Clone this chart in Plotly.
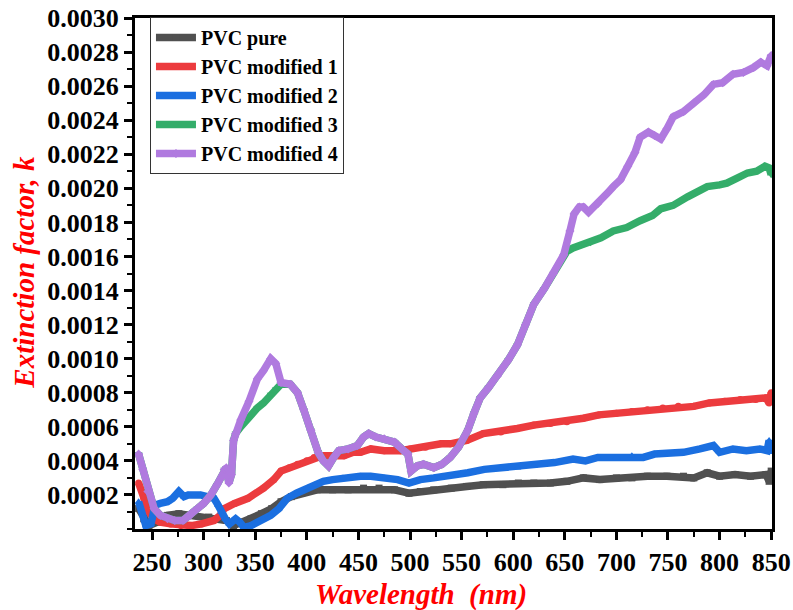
import plotly.graph_objects as go

# ---- data: extinction factor k versus wavelength (nm) ----
pure_wl = [237, 242, 247, 255, 265, 276, 290, 305, 314, 322,
           329, 338, 346, 356, 366, 375, 385, 395, 410, 425,
           440, 455, 470, 485, 499, 510, 523, 540, 555, 571,
           590, 605, 620, 636, 652, 668, 684, 700, 715, 730,
           749, 765, 775, 788, 800, 815, 830, 845, 848, 850]
pure_k = [0.00012, 0.00006, 0.00002, 0.00004, 0.00008, 0.00009, 0.00008, 0.00007, 0.00006, 0.00005,
          0.00002, 0.00004, 0.00006, 0.00009, 0.00012, 0.00016, 0.00019, 0.00021, 0.00023, 0.00023,
          0.00023, 0.00024, 0.00024, 0.00023, 0.00021, 0.00022, 0.00023, 0.00024, 0.00025, 0.00026,
          0.00026, 0.00027, 0.00027, 0.00027, 0.00028, 0.00030, 0.00029, 0.00030, 0.00030, 0.00031,
          0.00031, 0.00031, 0.00030, 0.00033, 0.00031, 0.00032, 0.00031, 0.00032, 0.00028, 0.00034]

mod1_wl = [237, 242, 247, 252, 258, 268, 278, 288, 298, 310,
           316, 320, 330, 343, 358, 368, 375, 383, 391, 400,
           407, 415, 425, 436, 445, 452, 462, 475, 491, 500,
           515, 530, 539, 555, 571, 588, 604, 620, 636, 652,
           668, 683, 700, 715, 730, 745, 760, 775, 790, 805,
           820, 835, 845, 848, 850]
mod1_k = [0.00027, 0.00018, 0.00010, 0.00006, 0.00004, 0.00003, 0.00002, 0.00002, 0.00003, 0.00005,
          0.00008, 0.00012, 0.00015, 0.00018, 0.00024, 0.00029, 0.00034, 0.00036, 0.00038, 0.00040,
          0.00042, 0.00043, 0.00043, 0.00043, 0.00045, 0.00045, 0.00047, 0.00046, 0.00046, 0.00047,
          0.00048, 0.00050, 0.00050, 0.00052, 0.00056, 0.00057, 0.00059, 0.00061, 0.00062, 0.00063,
          0.00065, 0.00067, 0.00068, 0.00069, 0.00070, 0.00071, 0.00072, 0.00072, 0.00074, 0.00075,
          0.00076, 0.00076, 0.00077, 0.00074, 0.00080]

mod2_wl = [237, 241, 244, 249, 253, 258, 265, 270, 276, 281,
           285, 297, 305, 310, 314, 317, 321, 325, 331, 335,
           339, 346, 352, 358, 365, 373, 381, 390, 401, 408,
           416, 425, 435, 445, 452, 462, 475, 488, 499, 510,
           523, 540, 556, 572, 588, 604, 620, 640, 658, 670,
           682, 700, 715, 726, 737, 750, 765, 781, 794, 800,
           813, 826, 839, 846, 848, 850]
mod2_k = [0.00016, 0.00008, 0.00002, 0.00003, 0.00014, 0.00015, 0.00016, 0.00018, 0.00022, 0.00019,
          0.00020, 0.00020, 0.00019, 0.00018, 0.00014, 0.00010, 0.00006, 0.00003, 0.00006, 0.00004,
          0.00001, 0.00002, 0.00004, 0.00006, 0.00008, 0.00012, 0.00018, 0.00021, 0.00024, 0.00026,
          0.00028, 0.00029, 0.00030, 0.00030, 0.00031, 0.00031, 0.00030, 0.00029, 0.00027, 0.00029,
          0.00030, 0.00031, 0.00033, 0.00035, 0.00036, 0.00036, 0.00037, 0.00039, 0.00041, 0.00040,
          0.00042, 0.00042, 0.00043, 0.00042, 0.00044, 0.00044, 0.00045, 0.00047, 0.00049, 0.00045,
          0.00047, 0.00046, 0.00047, 0.00046, 0.00052, 0.00045]

mod3_wl = [237, 241, 246, 252, 258, 265, 272, 280, 287, 294,
           300, 307, 313, 320, 322, 324.5, 327, 329, 331, 336,
           344, 352, 358, 365, 370, 375, 384, 391, 397, 404,
           411, 416, 421, 426, 431, 440, 449, 455, 460, 467,
           475, 485, 494, 498, 501, 507, 513, 523, 531, 539,
           547, 556, 562, 568, 576, 585, 595, 604, 612, 620,
           630, 639, 649, 652, 658, 668, 675, 685, 697, 710,
           723, 735, 743, 755, 769, 778, 788, 800, 807, 817,
           827, 836, 844, 848, 850]
mod3_k = [0.00044, 0.00035, 0.00022, 0.00012, 0.00008, 0.00006, 0.00005, 0.00005, 0.00008, 0.00012,
          0.00015, 0.00020, 0.00026, 0.00035, 0.00036, 0.00027, 0.00032, 0.00052, 0.00056, 0.00060,
          0.00066, 0.00071, 0.00074, 0.00079, 0.00082, 0.00085, 0.00085, 0.00080, 0.00070, 0.00058,
          0.00045, 0.00040, 0.00037, 0.00042, 0.00046, 0.00047, 0.00049, 0.00054, 0.00056, 0.00054,
          0.00053, 0.00051, 0.00046, 0.00044, 0.00034, 0.00037, 0.00038, 0.00036, 0.00038, 0.00042,
          0.00048, 0.00058, 0.00068, 0.00077, 0.00083, 0.00090, 0.00099, 0.00108, 0.00120, 0.00132,
          0.00141, 0.00150, 0.00161, 0.00163, 0.00165, 0.00167, 0.00168, 0.00171, 0.00175, 0.00177,
          0.00181, 0.00184, 0.00188, 0.00190, 0.00195, 0.00198, 0.00201, 0.00202, 0.00203, 0.00206,
          0.00209, 0.00210, 0.00213, 0.00212, 0.00208]

mod4_wl = [237, 241, 246, 252, 258, 265, 272, 280, 287, 294,
           300, 307, 313, 320, 322, 324.5, 327, 329, 331, 336,
           344, 352, 358, 365, 370, 375, 384, 391, 397, 404,
           411, 416, 421, 426, 431, 440, 449, 455, 460, 467,
           475, 485, 494, 498, 501, 507, 513, 523, 531, 539,
           547, 556, 562, 568, 576, 585, 595, 604, 612, 620,
           630, 639, 649, 655, 659, 664, 668, 673, 682, 691,
           697, 704, 711, 718, 723, 731, 737, 743, 749, 755,
           765, 775, 785, 794, 803, 813, 823, 833, 840, 846,
           850]
mod4_k = [0.00044, 0.00035, 0.00022, 0.00012, 0.00008, 0.00006, 0.00005, 0.00005, 0.00008, 0.00012,
          0.00015, 0.00020, 0.00026, 0.00035, 0.00036, 0.00027, 0.00032, 0.00052, 0.00056, 0.00064,
          0.00075, 0.00088, 0.00093, 0.00100, 0.00097, 0.00086, 0.00085, 0.00080, 0.00070, 0.00058,
          0.00045, 0.00040, 0.00037, 0.00042, 0.00046, 0.00047, 0.00049, 0.00054, 0.00056, 0.00054,
          0.00053, 0.00051, 0.00046, 0.00044, 0.00034, 0.00037, 0.00038, 0.00036, 0.00038, 0.00042,
          0.00048, 0.00058, 0.00068, 0.00077, 0.00083, 0.00090, 0.00099, 0.00108, 0.00120, 0.00132,
          0.00141, 0.00150, 0.00161, 0.00175, 0.00185, 0.00189, 0.00189, 0.00186, 0.00191, 0.00197,
          0.00201, 0.00205, 0.00213, 0.00221, 0.00230, 0.00233, 0.00231, 0.00229, 0.00235, 0.00242,
          0.00245, 0.00250, 0.00255, 0.00261, 0.00262, 0.00267, 0.00268, 0.00271, 0.00274, 0.00272,
          0.00278]

series_names = ["PVC pure", "PVC modified 1", "PVC modified 2", "PVC modified 3", "PVC modified 4"]
x_tick_vals = [250, 300, 350, 400, 450, 500, 550, 600, 650, 700, 750, 800, 850]
y_tick_vals = [0.0002, 0.0004, 0.0006, 0.0008, 0.0010, 0.0012, 0.0014, 0.0016,
               0.0018, 0.0020, 0.0022, 0.0024, 0.0026, 0.0028, 0.0030]
y_tick_text = ["%.4f" % v for v in y_tick_vals]

series = [
    (pure_wl, pure_k, "#505050", "square"),
    (mod1_wl, mod1_k, "#ec3b3e", "circle"),
    (mod2_wl, mod2_k, "#1b6fe0", "triangle-up"),
    (mod3_wl, mod3_k, "#34ad6a", "triangle-down"),
    (mod4_wl, mod4_k, "#b07adf", "diamond"),
]
for wl, k, _, _ in series:
    assert len(wl) == len(k)

FONT = "Liberation Serif, Times New Roman, serif"

fig = go.Figure()
for name, (wl, k, color, symbol) in zip(series_names, series):
    fig.add_trace(go.Scatter(
        x=wl, y=k, name=name, mode="lines+markers",
        line=dict(color=color, width=7.5),
        marker=dict(symbol=symbol, size=7, color=color),
    ))

axis_common = dict(
    showline=True, linecolor="black", linewidth=3, mirror=True,
    ticks="outside", ticklen=8, tickwidth=3, tickcolor="black",
    showgrid=False, zeroline=False, automargin=False,
    tickfont=dict(family=FONT, size=26, color="black", weight="bold"),
)

fig.update_xaxes(
    range=[233.5, 850.8], tickmode="array", tickvals=x_tick_vals,
    minor=dict(ticks="outside", ticklen=5, tickwidth=2, tickcolor="black",
               tickmode="linear", tick0=225, dtick=25, showgrid=False),
    **axis_common,
)
fig.update_yaxes(
    range=[0, 0.0030], tickmode="array", tickvals=y_tick_vals, ticktext=y_tick_text,
    minor=dict(ticks="outside", ticklen=5, tickwidth=2, tickcolor="black",
               tickmode="linear", tick0=0, dtick=0.0001, showgrid=False),
    **axis_common,
)

title_font = dict(family=FONT, size=29, color="#ff0000", weight="bold", style="italic")
fig.add_annotation(text="Wavelength\u00a0 (nm)", xref="paper", yref="paper",
                   x=0.449, y=-0.129, xanchor="center", yanchor="middle",
                   showarrow=False, font=title_font)
fig.add_annotation(text="Extinction factor, k", xref="paper", yref="paper",
                   x=-0.174, y=0.502, xanchor="center", yanchor="middle",
                   textangle=-90, showarrow=False, font=title_font)

fig.update_layout(
    width=793, height=610,
    margin=dict(l=135, r=21, t=18, b=81),
    plot_bgcolor="white", paper_bgcolor="white",
    legend=dict(
        x=0.0235, y=1.002, xanchor="left", yanchor="top",
        bgcolor="white", bordercolor="#333333", borderwidth=1,
        font=dict(family=FONT, size=20, color="black", weight="bold"),
        tracegroupgap=0, itemwidth=40,
    ),
    showlegend=True,
)

fig.write_html("out.html")
